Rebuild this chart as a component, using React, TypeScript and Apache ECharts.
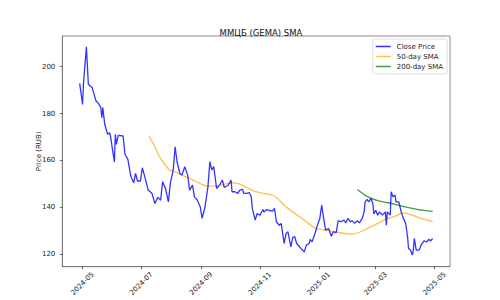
import React, { useEffect, useRef } from "react";
import * as echarts from "echarts";

const closeDates = [
  "2024-04-28","2024-05-01","2024-05-02","2024-05-05","2024-05-07","2024-05-11","2024-05-13","2024-05-15","2024-05-17","2024-05-20",
  "2024-05-21","2024-05-22","2024-05-24","2024-05-27","2024-05-29","2024-05-30","2024-06-01","2024-06-03","2024-06-04","2024-06-05",
  "2024-06-07","2024-06-12","2024-06-14","2024-06-17","2024-06-20","2024-06-23","2024-06-25","2024-06-27","2024-06-30","2024-07-02",
  "2024-07-05","2024-07-08","2024-07-12","2024-07-15","2024-07-18","2024-07-21","2024-07-23","2024-07-26","2024-07-29","2024-07-31",
  "2024-08-03","2024-08-05","2024-08-07","2024-08-10","2024-08-12","2024-08-15","2024-08-18","2024-08-20","2024-08-23","2024-08-25",
  "2024-08-28","2024-08-31","2024-09-02","2024-09-05","2024-09-08","2024-09-10","2024-09-12","2024-09-14","2024-09-17","2024-09-20",
  "2024-09-23","2024-09-25","2024-09-29","2024-10-02","2024-10-03","2024-10-06","2024-10-09","2024-10-11","2024-10-14","2024-10-15",
  "2024-10-18","2024-10-21","2024-10-23","2024-10-24","2024-10-27","2024-10-29","2024-11-01","2024-11-04","2024-11-05","2024-11-08",
  "2024-11-10","2024-11-14","2024-11-16","2024-11-18","2024-11-21","2024-11-23","2024-11-26","2024-11-28","2024-11-30","2024-12-03",
  "2024-12-05","2024-12-07","2024-12-09","2024-12-12","2024-12-15","2024-12-17","2024-12-19","2024-12-22","2024-12-23","2024-12-25",
  "2024-12-28","2024-12-30","2025-01-02","2025-01-04","2025-01-06","2025-01-08","2025-01-11","2025-01-14","2025-01-16","2025-01-19",
  "2025-01-21","2025-01-24","2025-01-27","2025-01-29","2025-01-31","2025-02-03","2025-02-05","2025-02-07","2025-02-10","2025-02-12",
  "2025-02-15","2025-02-17","2025-02-18","2025-02-20","2025-02-22","2025-02-24","2025-02-26","2025-02-27","2025-03-01","2025-03-03",
  "2025-03-05","2025-03-08","2025-03-11","2025-03-12","2025-03-13","2025-03-16","2025-03-17","2025-03-19","2025-03-21","2025-03-22",
  "2025-03-25","2025-03-27","2025-03-29","2025-04-01","2025-04-03","2025-04-04","2025-04-06","2025-04-08","2025-04-09","2025-04-10",
  "2025-04-12","2025-04-15","2025-04-17","2025-04-20","2025-04-23","2025-04-25","2025-04-27","2025-04-29"
];
const closeValues = [
  192.9,183.9,193.2,208.5,192.5,191.0,188.2,185.3,184.6,182.5,
  178.2,182.5,175.4,171.1,171.8,170.4,164.7,159.3,171.1,166.8,
  170.7,170.4,162.6,160.4,153.3,150.4,154.4,151.2,151.2,156.8,
  152.3,147.3,145.9,141.6,144.2,143.0,150.9,148.0,142.3,150.2,
  155.9,165.8,159.4,154.4,153.7,157.3,153.7,147.3,149.4,144.4,
  143.0,140.2,135.2,140.2,148.7,159.4,155.9,157.3,148.0,149.4,
  151.6,148.4,149.4,151.6,146.6,146.6,145.9,147.3,147.6,145.9,
  145.9,146.2,144.4,139.5,134.5,137.3,136.6,139.0,138.0,139.0,
  138.7,138.3,139.5,133.8,132.3,133.0,124.5,128.8,129.5,123.1,
  127.1,127.4,124.5,123.1,121.7,120.9,123.8,124.5,126.3,125.2,
  128.8,131.6,135.2,140.9,135.2,130.2,130.9,127.6,129.5,129.1,
  134.2,133.8,134.5,133.3,135.2,133.8,134.2,133.1,134.2,133.3,
  135.2,138.0,142.3,143.3,142.3,143.8,141.6,137.1,138.7,136.6,
  138.0,136.6,138.0,132.3,138.0,136.6,146.6,144.4,145.2,142.3,
  142.3,138.7,135.9,133.1,127.4,122.4,121.7,119.6,121.7,126.7,
  121.7,121.7,123.8,125.6,125.2,126.3,125.6,126.7
];

const sma50Dates = [
  "2024-07-09","2024-07-13","2024-07-15","2024-07-18","2024-07-22","2024-07-26","2024-07-30","2024-08-05","2024-08-12","2024-08-18",
  "2024-08-25","2024-09-01","2024-09-07","2024-09-15","2024-09-26","2024-10-06","2024-10-11","2024-10-18","2024-10-25","2024-11-01",
  "2024-11-08","2024-11-14","2024-11-21","2024-11-28","2024-12-05","2024-12-12","2024-12-19","2024-12-26","2024-12-31","2025-01-09",
  "2025-01-18","2025-01-28","2025-02-04","2025-02-11","2025-02-18","2025-02-25","2025-03-04","2025-03-11","2025-03-17","2025-03-24",
  "2025-03-29","2025-04-03","2025-04-10","2025-04-17","2025-04-29"
];
const sma50Values = [
  170.4,167.3,165.8,163.0,160.1,158.0,155.9,155.1,153.7,152.7,
  151.3,149.9,149.0,149.0,149.9,150.4,149.9,148.5,147.0,146.2,
  145.6,145.2,143.0,140.2,138.0,135.9,133.8,131.6,130.6,130.2,
  129.5,128.8,128.5,129.1,130.5,131.9,133.3,134.8,135.6,136.6,
  137.6,137.3,136.3,135.2,133.8
];

const sma200Dates = ["2025-02-10","2025-02-21","2025-03-04","2025-03-14","2025-03-24","2025-04-03","2025-04-14","2025-04-29"];
const sma200Values = [147.6,144.4,142.7,141.9,140.9,139.9,139.0,138.2];

const xTickLabels = ["2024-05","2024-07","2024-09","2024-11","2025-01","2025-03","2025-05"];
const yTickValues = [120, 140, 160, 180, 200];

const seriesNames = ["Close Price", "50-day SMA", "200-day SMA"];

const ts = (s: string) => {
  const [y, m, d] = s.split("-").map(Number);
  return Date.UTC(y, m - 1, d || 1);
};

export default function App() {
  const ref = useRef<HTMLDivElement>(null);
  useEffect(() => {
    if (!ref.current) return;
    const chart = echarts.init(ref.current, null, { renderer: "svg" });
    const font = "DejaVu Sans";
    const xTicks = xTickLabels.map((l) => ts(l + "-01"));
    const labelOf = (v: number) => {
      const i = xTicks.findIndex((t) => Math.abs(t - v) < 3 * 86400000);
      return i >= 0 ? xTickLabels[i] : "";
    };
    chart.setOption({
      animation: false,
      backgroundColor: "#ffffff",
      title: {
        text: "ММЦБ (GEMA) SMA",
        left: 256,
        textAlign: "center",
        top: 23,
        textStyle: { fontFamily: font, fontSize: 8.5, fontWeight: "normal", color: "#111" },
      },
      legend: {
        data: seriesNames,
        orient: "vertical",
        right: 53,
        top: 39,
        icon: "rect",
        itemWidth: 15,
        itemHeight: 1.5,
        itemGap: 3,
        padding: [4, 4, 4, 3],
        backgroundColor: "rgba(255,255,255,0.8)",
        borderColor: "#d5d5d5",
        borderWidth: 0.8,
        borderRadius: 2,
        textStyle: { fontFamily: font, fontSize: 7, color: "#222", padding: [0, 0, 0, 1] },
      },
      grid: {
        left: 62.3,
        right: 50,
        top: 36,
        bottom: 33.3,
        show: true,
        borderColor: "#707070",
        borderWidth: 0.8,
        backgroundColor: "transparent",
      },
      xAxis: {
        type: "value",
        min: ts("2024-04-10"),
        max: ts("2025-05-17"),
        axisLine: { show: true, lineStyle: { color: "#707070", width: 0.8 } },
        axisTick: { show: true, length: 2.5, customValues: xTicks, lineStyle: { color: "#333", width: 0.7 } },
        axisLabel: {
          customValues: xTicks,
          formatter: (v: number) => labelOf(v),
          rotate: 45,
          align: "center",
          verticalAlign: "middle",
          margin: 17,
          fontFamily: font,
          fontSize: 7,
          color: "#222",
        },
        splitLine: { show: false },
      },
      yAxis: {
        type: "value",
        min: 114.6,
        max: 213.1,
        name: "Price (RUB)",
        nameLocation: "middle",
        nameGap: 20,
        nameMoveOverlap: false,
        nameTextStyle: { fontFamily: font, fontSize: 7, color: "#222" },
        axisLine: { show: true, lineStyle: { color: "#707070", width: 0.8 } },
        axisTick: { show: true, length: 2.5, customValues: yTickValues, lineStyle: { color: "#333", width: 0.7 } },
        axisLabel: {
          customValues: yTickValues,
          margin: 7,
          fontFamily: font,
          fontSize: 7,
          color: "#222",
        },
        splitLine: { show: false },
      },
      series: [
        {
          name: seriesNames[0],
          type: "line",
          showSymbol: false,
          data: closeDates.map((d, i) => [ts(d), closeValues[i]]),
          lineStyle: { color: "#0000ff", width: 1.3, opacity: 0.8 },
          itemStyle: { color: "#0000ff", opacity: 0.8 },
          z: 3,
        },
        {
          name: seriesNames[1],
          type: "line",
          showSymbol: false,
          data: sma50Dates.map((d, i) => [ts(d), sma50Values[i]]),
          lineStyle: { color: "#ffa500", width: 1.3, opacity: 0.7 },
          itemStyle: { color: "#ffa500", opacity: 0.7 },
          smooth: 0.3,
          z: 2,
        },
        {
          name: seriesNames[2],
          type: "line",
          showSymbol: false,
          data: sma200Dates.map((d, i) => [ts(d), sma200Values[i]]),
          lineStyle: { color: "#008000", width: 1.3, opacity: 0.75 },
          itemStyle: { color: "#008000", opacity: 0.75 },
          smooth: 0.3,
          z: 2,
        },
      ],
    });
    return () => chart.dispose();
  }, []);
  return (
    <div
      ref={ref}
      style={{ position: "fixed", left: 0, top: 0, width: 500, height: 300, background: "#fff" }}
    />
  );
}
